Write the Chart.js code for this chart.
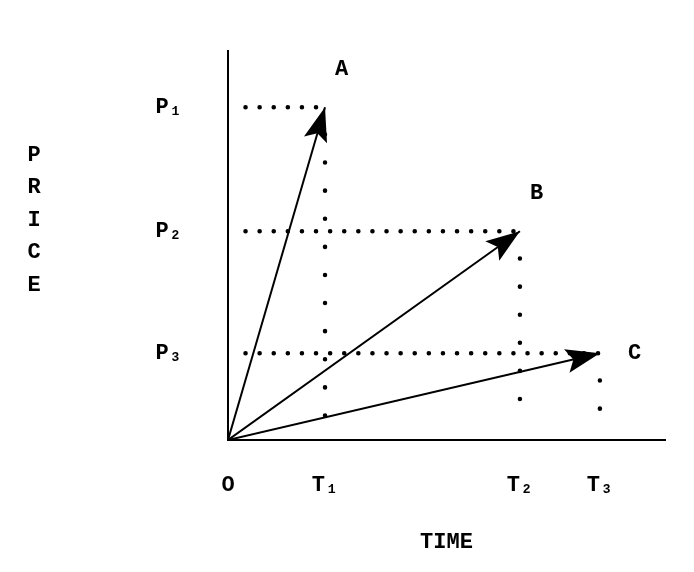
<!DOCTYPE html>
<html>
<head>
<meta charset="utf-8">
<style>
  html, body { margin: 0; padding: 0; background: #fff; }
  #wrap { width: 694px; height: 572px; }
</style>
<script src="https://cdn.jsdelivr.net/npm/chart.js@4/dist/chart.umd.min.js"></script>
</head>
<body>
<div id="wrap"><canvas id="c"></canvas></div>
<script>
// points (time, price) in axis units, 0..100 each
const pointNames = ['A', 'B', 'C'];
const times = [22.2, 66.8, 85.1];
const prices = [85.6, 53.7, 22.3];
const timeLabels = ['O', 'T\u2081', 'T\u2082', 'T\u2083'];
const priceLabels = ['P\u2081', 'P\u2082', 'P\u2083'];
const dotStartX = 4;   // where horizontal dotted guides start
const dotEndY = 5;     // where vertical dotted guides stop

const FONT = '"Liberation Mono", "DejaVu Sans Mono", monospace';

const datasets = [];
for (let i = 0; i < times.length; i++) {
  // arrow from origin
  datasets.push({
    data: [{x: 0, y: 0}, {x: times[i], y: prices[i]}],
    borderColor: '#000', borderWidth: 2, pointRadius: 0, arrow: true
  });
  // dotted guides: horizontal, then vertical (sparser)
  datasets.push({
    data: [{x: dotStartX, y: prices[i]}, {x: times[i], y: prices[i]}],
    borderColor: '#000', borderWidth: 4.5, borderDash: [0.1, 14], borderCapStyle: 'round',
    pointRadius: 0
  });
  datasets.push({
    data: [{x: times[i], y: prices[i] - 7}, {x: times[i], y: dotEndY}],
    borderColor: '#000', borderWidth: 4.5, borderDash: [0.1, 28], borderCapStyle: 'round',
    pointRadius: 0
  });
}

const arrowPlugin = {
  id: 'arrows',
  afterDatasetsDraw(chart) {
    const ctx = chart.ctx;
    let k = 0;
    chart.data.datasets.forEach((ds, di) => {
      if (!ds.arrow) return;
      const pts = chart.getDatasetMeta(di).data;
      const a = pts[0], b = pts[1];
      const ang = Math.atan2(b.y - a.y, b.x - a.x);
      const len = 34, half = 12;
      ctx.save();
      ctx.translate(b.x, b.y);
      ctx.rotate(ang);
      ctx.beginPath();
      ctx.moveTo(0, 0);
      ctx.lineTo(-len, -half);
      ctx.lineTo(-len * 0.8, 0);
      ctx.lineTo(-len, half);
      ctx.closePath();
      ctx.fillStyle = '#000';
      ctx.fill();
      ctx.restore();
      // point name
      ctx.save();
      ctx.font = 'bold 22px ' + FONT;
      ctx.fillStyle = '#000';
      ctx.textAlign = 'left';
      ctx.textBaseline = 'middle';
      const offs = [[10, -38], [10, -38], [28, 0]];
      ctx.fillText(pointNames[k], b.x + offs[k][0], b.y + offs[k][1]);
      ctx.restore();
      k++;
    });
    // stacked vertical axis word
    ctx.save();
    ctx.font = 'bold 22px ' + FONT;
    ctx.fillStyle = '#000';
    ctx.textAlign = 'center';
    ctx.textBaseline = 'middle';
    'PRICE'.split('').forEach((ch, i) => ctx.fillText(ch, 34, 155 + i * 32.5));
    ctx.restore();
  }
};

new Chart(document.getElementById('c'), {
  type: 'line',
  data: { datasets },
  options: {
    responsive: true, maintainAspectRatio: false, animation: false,
    layout: { padding: { left: 0, right: 29, top: 45, bottom: 12 } },
    plugins: { legend: { display: false }, tooltip: { enabled: false } },
    scales: {
      x: {
        type: 'linear', min: 0, max: 100,
        afterFit(s) { s.height = 120; },
        grid: { display: false },
        border: { color: '#000', width: 2 },
        afterBuildTicks(s) { s.ticks = [0].concat(times).map(v => ({value: v})); },
        ticks: {
          padding: 24, color: '#000', font: { family: FONT, size: 22, weight: 'bold' },
          maxRotation: 0, autoSkip: false,
          callback(v, i) { return timeLabels[i]; }
        },
        title: { display: true, text: 'TIME', color: '#000', padding: { top: 40 },
          font: { family: FONT, size: 22, weight: 'bold' } }
      },
      y: {
        type: 'linear', min: 0, max: 100,
        afterFit(s) { s.width = 228; },
        grid: { display: false },
        border: { color: '#000', width: 2 },
        afterBuildTicks(s) { s.ticks = prices.map(v => ({value: v})); },
        ticks: {
          padding: 38, color: '#000', font: { family: FONT, size: 22, weight: 'bold' },
          autoSkip: false,
          callback(v, i) { return priceLabels[i]; }
        }
      }
    }
  },
  plugins: [arrowPlugin]
});
</script>
</body>
</html>
